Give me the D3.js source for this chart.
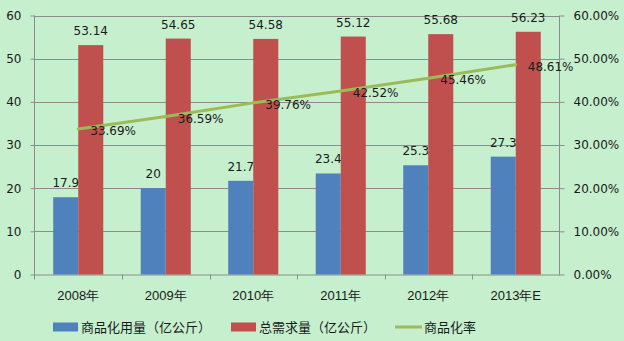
<!DOCTYPE html>
<html><head><meta charset="utf-8">
<script src="https://cdn.jsdelivr.net/npm/d3@7/dist/d3.min.js"></script>
<style>
html,body{margin:0;padding:0;background:#C6EFCE;}
svg{display:block;font-family:"DejaVu Sans","Noto Sans CJK SC",sans-serif;}
</style></head><body>
<svg id="c" width="624" height="341"></svg>
<script>
const categories = ["2008年","2009年","2010年","2011年","2012年","2013年E"];
const commercialUse = [17.9, 20, 21.7, 23.4, 25.3, 27.3];
const totalDemand = [53.14, 54.65, 54.58, 55.12, 55.68, 56.23];
const commercialRate = [33.69, 36.59, 39.76, 42.52, 45.46, 48.61];
const leftTicks = [0,10,20,30,40,50,60];
const rightTicks = [0,10,20,30,40,50,60];
const seriesNames = ["商品化用量（亿公斤）","总需求量（亿公斤）","商品化率"];
const colors = ["#4F81BD","#C0504D","#9BBB59"];

const svg = d3.select("#c");
svg.append("rect").attr("width",624).attr("height",341).attr("fill","#C6EFCE");

const L = 34.5, R = 559.5, T = 15.5, B = 274.5;
const x = d3.scaleBand().domain(categories).range([L, R]).padding(0);
const y = d3.scaleLinear().domain([0,60]).range([B, T]);
const yr = d3.scaleLinear().domain([0,60]).range([B, T]);
const grid = "#8C8C8C";
const txt = "#1a1a1a";

// gridlines
svg.append("g").selectAll("line").data(leftTicks.filter(d=>d>0)).join("line")
  .attr("x1",L).attr("x2",R).attr("y1",d=>Math.round(y(d))+0.5).attr("y2",d=>Math.round(y(d))+0.5)
  .attr("stroke",grid).attr("stroke-width",1);

// left axis
const gl = svg.append("g").attr("transform",`translate(${L},0)`)
  .call(d3.axisLeft(y).tickValues(leftTicks).tickSize(4).tickPadding(9).tickFormat(d3.format("d")));
gl.select(".domain").attr("d",`M0,${T}V${B+5}`).attr("stroke",grid);
gl.selectAll(".tick line").attr("stroke",grid);
gl.selectAll(".tick text").attr("font-size",12).attr("fill",txt).attr("font-family",'"DejaVu Sans",sans-serif');

// right axis
const gr = svg.append("g").attr("transform",`translate(${R},0)`)
  .call(d3.axisRight(yr).tickValues(rightTicks).tickSize(5).tickPadding(9).tickFormat(d=>d.toFixed(2)+"%"));
gr.select(".domain").attr("d",`M0,${T}V${B}`).attr("stroke",grid);
gr.selectAll(".tick line").attr("stroke",grid);
gr.selectAll(".tick text").attr("font-size",12).attr("fill",txt).attr("font-family",'"DejaVu Sans",sans-serif');

// bottom axis
const gb = svg.append("g").attr("transform",`translate(0,${B})`)
  .call(d3.axisBottom(x).tickSize(0).tickPadding(16));
gb.select(".domain").attr("stroke",grid);
gb.selectAll(".tick text").attr("font-size",13).attr("fill",txt);
svg.append("g").selectAll("line").data(categories.slice(1)).join("line")
  .attr("x1",d=>Math.round(x(d))+0.5).attr("x2",d=>Math.round(x(d))+0.5)
  .attr("y1",B).attr("y2",B+5).attr("stroke",grid);

// bars
const groupW = x.bandwidth()*0.572;
const inner = d3.scaleBand().domain([0,1]).range([0,groupW]);
const series = [commercialUse,totalDemand];
series.forEach((vals,si)=>{
  const g = svg.append("g");
  g.selectAll("rect").data(vals).join("rect")
    .attr("x",(d,i)=>x(categories[i])+(x.bandwidth()-groupW)/2+inner(si))
    .attr("width",inner.bandwidth())
    .attr("y",d=>y(d)).attr("height",d=>B-y(d))
    .attr("fill",colors[si]);
  g.selectAll("text").data(vals).join("text")
    .attr("x",(d,i)=>x(categories[i])+(x.bandwidth()-groupW)/2+inner(si)+inner.bandwidth()/2)
    .attr("y",d=>y(d)-10)
    .attr("text-anchor","middle").attr("font-size",12).attr("fill",txt)
    .text(d=>String(d));
});

// line
const cx = (i)=>x(categories[i])+x.bandwidth()/2;
const line = d3.line().x((d,i)=>cx(i)).y(d=>yr(d));
svg.append("path").datum(commercialRate).attr("d",line)
  .attr("fill","none").attr("stroke",colors[2]).attr("stroke-width",3).attr("stroke-linecap","round");
svg.append("g").selectAll("text").data(commercialRate).join("text")
  .attr("x",(d,i)=>cx(i)+12).attr("y",d=>yr(d)+6)
  .attr("font-size",12).attr("fill",txt)
  .text(d=>d.toFixed(2)+"%");

// legend
const leg = svg.append("g");
const legX = [53, 231, 395];
const legY = 327;
seriesNames.forEach((n,i)=>{
  if(i<2){
    leg.append("rect").attr("x",legX[i]).attr("y",legY-4.5).attr("width",25).attr("height",9).attr("fill",colors[i]);
  } else {
    leg.append("line").attr("x1",legX[i]).attr("x2",legX[i]+27).attr("y1",legY).attr("y2",legY)
      .attr("stroke",colors[i]).attr("stroke-width",3);
  }
  leg.append("text").attr("x",legX[i]+(i<2?28:29)).attr("y",legY+4.5)
    .attr("font-size",13).attr("fill",txt).attr("font-family",'"Noto Sans CJK SC",sans-serif').text(n);
});
</script>
</body></html>
